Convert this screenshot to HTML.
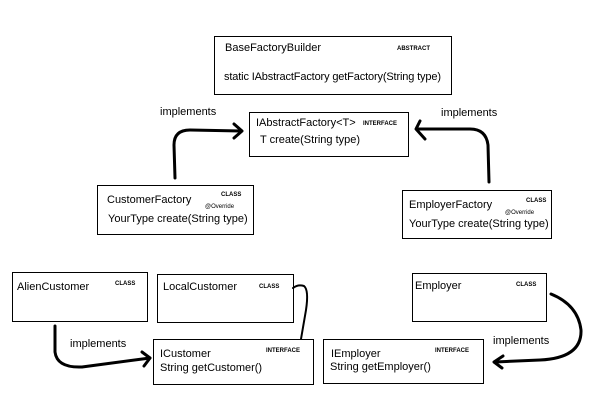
<!DOCTYPE html>
<html><head><meta charset="utf-8"><style>
html,body{margin:0;padding:0;background:#fff;}
svg{display:block;}
text{font-family:"Liberation Sans",Arial,sans-serif;fill:#000;}
.t{font-size:11px;}
.s{font-size:6px;font-weight:bold;}
.o{font-size:6px;}
rect{fill:#fff;stroke:#000;stroke-width:1;}
.a{fill:none;stroke:#000;stroke-width:3;stroke-linecap:round;stroke-linejoin:round;}
</style></head><body>
<svg width="599" height="415" viewBox="0 0 599 415" xmlns="http://www.w3.org/2000/svg">
<rect x="214.5" y="36.5" width="237" height="58"/>
<text class="t" x="225" y="51">BaseFactoryBuilder</text>
<text class="s" x="397" y="50">ABSTRACT</text>
<text class="t" x="224" y="80" textLength="217">static IAbstractFactory getFactory(String type)</text>

<rect x="249.5" y="112.5" width="159" height="44"/>
<text class="t" x="256" y="126">IAbstractFactory&lt;T&gt;</text>
<text class="s" x="363" y="125">INTERFACE</text>
<text class="t" x="260" y="143">T create(String type)</text>

<text class="t" x="160" y="115">implements</text>
<text class="t" x="441" y="116">implements</text>

<rect x="97.5" y="185.5" width="156" height="49"/>
<text class="t" x="107" y="203">CustomerFactory</text>
<text class="s" x="221" y="196">CLASS</text>
<text class="o" x="205" y="208">@Override</text>
<text class="t" x="108" y="222">YourType create(String type)</text>

<rect x="402.5" y="190.5" width="149" height="48"/>
<text class="t" x="409" y="208">EmployerFactory</text>
<text class="s" x="526" y="202">CLASS</text>
<text class="o" x="505" y="214">@Override</text>
<text class="t" x="409" y="227">YourType create(String type)</text>

<rect x="12.5" y="272.5" width="135" height="49"/>
<text class="t" x="17" y="290">AlienCustomer</text>
<text class="s" x="115" y="285">CLASS</text>

<rect x="157.5" y="274.5" width="136" height="48"/>
<text class="t" x="163" y="290">LocalCustomer</text>
<text class="s" x="259" y="288">CLASS</text>

<rect x="412.5" y="273.5" width="134" height="48"/>
<text class="t" x="415" y="289">Employer</text>
<text class="s" x="516" y="286">CLASS</text>

<rect x="153.5" y="339.5" width="160" height="45"/>
<text class="t" x="160" y="357">ICustomer</text>
<text class="s" x="266" y="352">INTERFACE</text>
<text class="t" x="160" y="371">String getCustomer()</text>

<rect x="323.5" y="339.5" width="160" height="44"/>
<text class="t" x="331" y="357">IEmployer</text>
<text class="s" x="435" y="352">INTERFACE</text>
<text class="t" x="330" y="370">String getEmployer()</text>

<text class="t" x="70" y="347">implements</text>
<text class="t" x="493" y="344">implements</text>

<!-- arrows -->
<path class="a" d="M175 178 L174 145 Q174 130 190 130 L241 131"/>
<path class="a" d="M234 124 L242 131 L234 138"/>
<path class="a" d="M489 182 L488 145 Q486 129 470 129 L417 129"/>
<path class="a" d="M420 121 L416 129 L425 139"/>
<path class="a" d="M55 326 L55 352 Q57 368 82 367 L150 358"/>
<path class="a" d="M142 352 L150 358 L144 366"/>
<path style="fill:none;stroke:#000;stroke-width:2;stroke-linecap:round" d="M293 288 Q298 284 304 286 Q309 290 306 310 L301 339"/>
<path class="a" d="M551 294 Q578 305 581 330 Q582 358 540 360 L495 362"/>
<path class="a" d="M503 356 L494 362 L502 368"/>
</svg>
</body></html>
